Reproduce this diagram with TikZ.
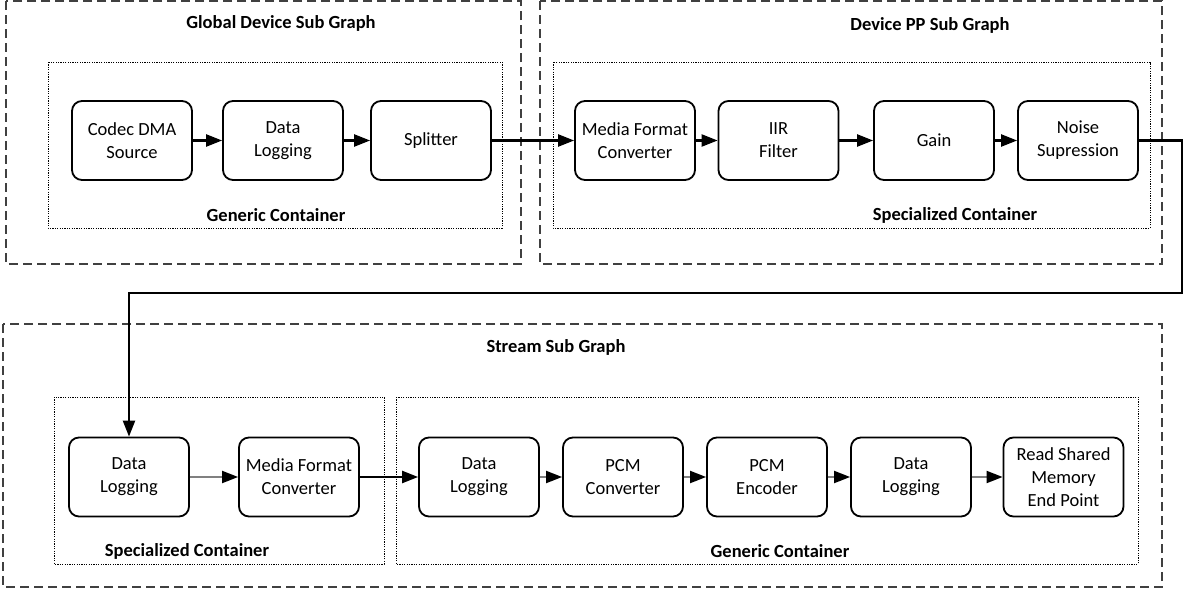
\documentclass[tikz,border=0pt]{standalone}
\usepackage{fontspec}
\setmainfont{Carlito}
\usetikzlibrary{arrows.meta}
\begin{document}
\begin{tikzpicture}[x=1pt,y=-1pt,
  blk/.style={draw, line width=1.8pt, rounded corners=10pt, minimum width=120pt, minimum height=79pt,
    align=center, inner sep=0pt, font=\fontsize{18.5}{23}\selectfont},
  subgraph/.style={draw=black!75, line width=1.1pt, dash pattern=on 9pt off 5pt},
  cont/.style={draw, line width=1pt, dash pattern=on 1.2pt off 1.2pt},
  ttl/.style={font=\fontsize{18.5}{20}\selectfont\bfseries, inner sep=0pt},
  flow/.style={line width=2.2pt, -{Triangle[length=16pt,width=12pt]}},
  thin/.style={line width=2pt, draw=black!50, -{Triangle[length=16pt,width=12pt,color=black]}}
]
\useasboundingbox (0,0) rectangle (1184,589);
% sub graphs
\draw[subgraph] (6,1) rectangle (521,264);
\draw[subgraph] (540,1) rectangle (1162,264);
\draw[subgraph] (3,324) rectangle (1162,587);
\node[ttl] (t1) at (281,23) {Global Device Sub Graph};
\node[ttl] (t2) at (930,25) {Device PP Sub Graph};
\node[ttl] (t3) at (556,347) {Stream Sub Graph};
% containers
\draw[cont] (48,62) rectangle (502,228);
\draw[cont] (553,62) rectangle (1150,228);
\draw[cont] (54,397) rectangle (384,564);
\draw[cont] (396,397) rectangle (1138,564);
\node[ttl] (c1) at (276,215) {Generic Container};
\node[ttl] (c2) at (955,215) {Specialized Container};
\node[ttl] (c3) at (187,551) {Specialized Container};
\node[ttl] (c4) at (780,551) {Generic Container};
% top row
\node[blk] (a1) at (132,140.5) {Codec DMA\\Source};
\node[blk] (a2) at (283,140.5) {Data\\Logging};
\node[blk] (a3) at (431,140.5) {Splitter};
\node[blk] (a4) at (635,140.5) {Media Format\\Converter};
\node[blk] (a5) at (778.5,140.5) {IIR\\Filter};
\node[blk] (a6) at (934,140.5) {Gain};
\node[blk] (a7) at (1078,140.5) {Noise\\Supression};
% bottom row
\node[blk] (b1) at (129,477) {Data\\Logging};
\node[blk] (b2) at (299,477) {Media Format\\Converter};
\node[blk] (b3) at (479,477) {Data\\Logging};
\node[blk] (b4) at (623,477) {PCM\\Converter};
\node[blk] (b5) at (767,477) {PCM\\Encoder};
\node[blk] (b6) at (911,477) {Data\\Logging};
\node[blk] (b7) at (1063.5,477) {Read Shared\\Memory\\End Point};
% connectors
\draw[flow] (a1) -- (a2);
\draw[flow] (a2) -- (a3);
\draw[flow] (a3) -- (a4);
\draw[flow] (a4) -- (a5);
\draw[flow] (a5) -- (a6);
\draw[flow] (a6) -- (a7);
\coordinate (turn) at (1182,293);
\draw[flow] (a7.east) -| (turn) -| (b1.north);
\draw[thin] (b1) -- (b2);
\draw[flow] (b2) -- (b3);
\draw[thin] (b3) -- (b4);
\draw[thin] (b4) -- (b5);
\draw[thin] (b5) -- (b6);
\draw[thin] (b6) -- (b7);
\end{tikzpicture}
\end{document}
